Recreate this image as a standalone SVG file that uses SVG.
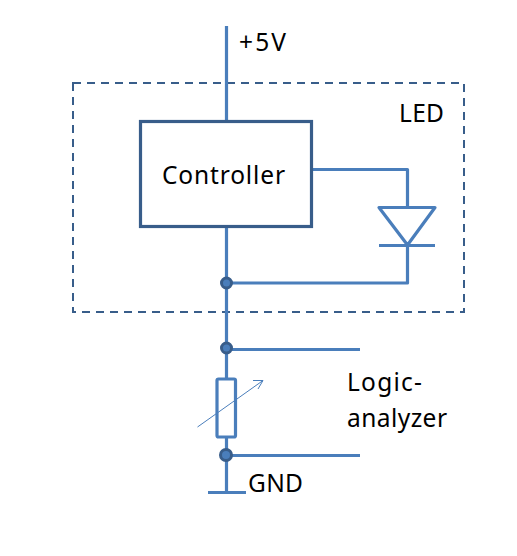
<svg xmlns="http://www.w3.org/2000/svg" width="517" height="556" viewBox="0 0 517 556">
<style>
.w{fill:none;stroke:#4a7ebb;stroke-width:3.200;stroke-linejoin:round}
.b{fill:none;stroke:#385d8a;stroke-width:3.200}
.j{fill:#4a7ebb;stroke:#385d8a;stroke-width:3}
text{font-family:"Noto Sans","Open Sans","Liberation Sans",sans-serif;font-size:24.500px;fill:#000}
</style>
<rect width="517" height="556" fill="#fff"/>
<g id="led-boundary"><rect x="73" y="83" width="391" height="229" fill="none" stroke="#385d8a" stroke-width="2" stroke-dasharray="8 6"/><text x="399" y="122" textLength="45">LED</text></g>
<g id="connectors">
<path class="w" d="M226.500 26V121M226.500 227V493M312 169.500H407.500V207M407.500 245V283H227M227 349.500H360M227 455.500H360M208 492.500H246"/>
</g>
<g id="supply"><text x="239" y="51" textLength="47">+5V</text></g>
<g id="controller"><rect class="b" x="140.500" y="121.500" width="171" height="105" fill="#fff"/><text x="162" y="184" textLength="123">Controller</text></g>
<g id="led-diode"><path class="w" d="M379 207.500H435L407.500 245ZM379 245.500H435"/></g>
<g id="junction-1"><circle class="j" cx="226.500" cy="283" r="5"/></g>
<g id="junction-2"><circle class="j" cx="226.500" cy="348" r="5"/></g>
<g id="junction-3"><circle class="j" cx="226" cy="455" r="5.500"/></g>
<g id="resistor"><rect class="w" x="217" y="379" width="18.500" height="58" rx="1.500" style="fill:#fff"/><path d="M197.500 427L263 380.500M253 380.500L263 380.500L258 389" fill="none" stroke="#4a7ebb" stroke-width="1"/></g>
<g id="logic-analyzer"><text x="347" y="391" textLength="75">Logic-</text><text x="347" y="427" textLength="100">analyzer</text></g>
<g id="gnd"><text x="248" y="492" textLength="55">GND</text></g>
</svg>
